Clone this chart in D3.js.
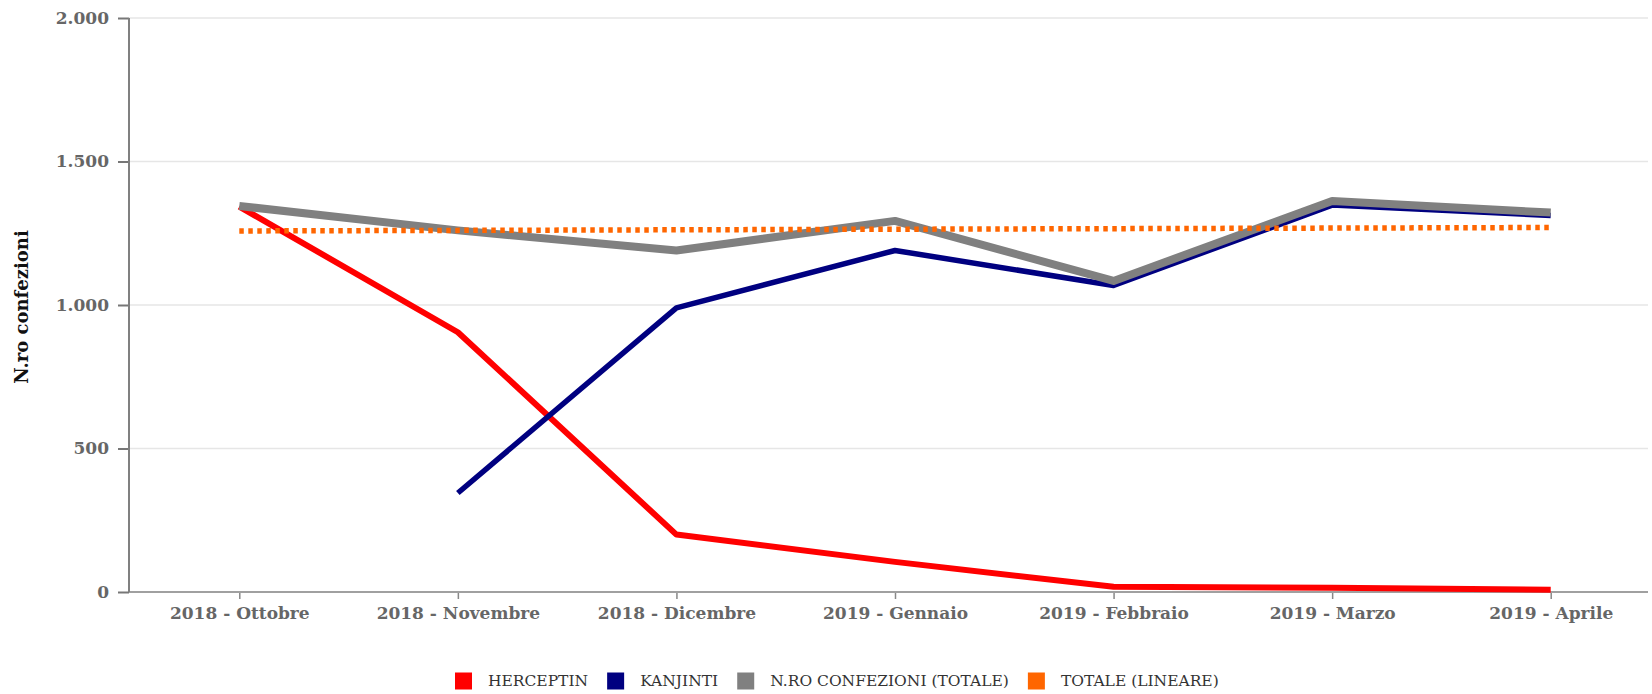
<!DOCTYPE html>
<html>
	<head>
		<meta charset="utf-8">
		<title>N.ro confezioni</title>
		<style>
			body {
				margin: 0;
				background: #fff;
			}

			text {
				font-family: "DejaVu Serif", serif;
			}

			.tick text {
				font-weight: bold;
				font-size: 17px;
				fill: #666;
			}

			.legend text {
				font-size: 15.5px;
				fill: #333;
			}
		</style>
	</head>
	<body>
		<script src="https://cdn.jsdelivr.net/npm/d3@7"></script>
		<script>
			var categories = ["2018 - Ottobre", "2018 - Novembre", "2018 - Dicembre", "2019 - Gennaio", "2019 - Febbraio", "2019 - Marzo", "2019 - Aprile"];
			var herceptin = [1343, 905, 200, 105, 18, 15, 8];
			var kanjinti = [null, 345, 990, 1190, 1068, 1348, 1312];
			var totale = [1345, 1260, 1190, 1293, 1084, 1362, 1322];
			var lineare = [1258, 1260, 1262, 1264, 1266, 1268, 1270];
			var yTicks = [0, 500, 1000, 1500, 2000];

			var series = [
				{name: "HERCEPTIN", values: herceptin, color: "#ff0000", width: 6},
				{name: "KANJINTI", values: kanjinti, color: "#000080", width: 5.5},
				{name: "N.RO CONFEZIONI (TOTALE)", values: totale, color: "#808080", width: 8},
				{name: "TOTALE (LINEARE)", values: lineare, color: "#ff6600", width: 5.5, dash: "4.5,4.5"}
			];

			var width = 1652;
			var height = 694;
			var plotLeft = 129, plotRight = 1648, plotTop = 18, plotBottom = 592;

			var svg = d3.select('body').append('svg')
						.attr('width', width)
						.attr('height', height);

			var x = d3.scalePoint()
					.domain(categories)
					.range([130, 1660])
					.padding(0.5);

			var y = d3.scaleLinear()
					.domain([0, 2000])
					.range([plotBottom, plotTop]);

			var fmt = function(d) { return d3.format(",")(d).replace(/,/g, "."); };

			// grid
			svg.append('g')
				.selectAll('line')
				.data(yTicks.slice(1))
				.enter().append('line')
				.attr('x1', plotLeft)
				.attr('x2', plotRight)
				.attr('y1', function(d) { return y(d); })
				.attr('y2', function(d) { return y(d); })
				.style('stroke', '#e6e6e6')
				.style('stroke-width', 1.5);

			// x axis
			var xAxis = svg.append('g')
				.attr('transform', 'translate(0,' + plotBottom + ')')
				.call(d3.axisBottom(x).tickSize(7).tickPadding(8));
			xAxis.select('.domain').remove();
			xAxis.selectAll('.tick line').style('stroke', '#888').style('stroke-width', 1.5);
			svg.append('line')
				.attr('x1', plotLeft).attr('x2', plotRight)
				.attr('y1', plotBottom).attr('y2', plotBottom)
				.style('stroke', '#a0a0a0')
				.style('stroke-width', 2);

			// y axis
			var yAxis = svg.append('g')
				.attr('transform', 'translate(' + plotLeft + ',0)')
				.call(d3.axisLeft(y).tickValues(yTicks).tickFormat(fmt).tickSize(11).tickPadding(9));
			yAxis.select('.domain').remove();
			yAxis.selectAll('.tick line').style('stroke', '#777').style('stroke-width', 2);
			svg.append('line')
				.attr('x1', plotLeft).attr('x2', plotLeft)
				.attr('y1', plotTop).attr('y2', plotBottom)
				.style('stroke', '#808080')
				.style('stroke-width', 2);

			svg.append('text')
				.attr('transform', 'translate(28,' + ((plotTop + plotBottom) / 2 + 2) + ') rotate(-90)')
				.attr('text-anchor', 'middle')
				.style('font-weight', 'bold')
				.style('font-size', '18px')
				.style('fill', '#111')
				.text('N.ro confezioni');

			// lines
			var line = d3.line()
					.defined(function(d) { return d != null; })
					.x(function(d, i) { return x(categories[i]); })
					.y(function(d) { return y(d); });

			svg.append('g')
				.selectAll('path')
				.data(series)
				.enter().append('path')
				.attr('d', function(s) { return line(s.values); })
				.style('fill', 'none')
				.style('stroke', function(s) { return s.color; })
				.style('stroke-width', function(s) { return s.width; })
				.style('stroke-dasharray', function(s) { return s.dash || null; })
				.style('stroke-linejoin', 'round');

			// legend
			var legend = svg.append('g').attr('class', 'legend');
			var lx = 455, ly = 681;
			series.forEach(function(s) {
				legend.append('rect')
					.attr('x', lx)
					.attr('y', ly - 8.5)
					.attr('width', 17)
					.attr('height', 17)
					.style('fill', s.color);
				var t = legend.append('text')
					.attr('x', lx + 33)
					.attr('y', ly + 5)
					.text(s.name);
				lx += 33 + t.node().getComputedTextLength() + 19;
			});
		</script>
	</body>
</html>
